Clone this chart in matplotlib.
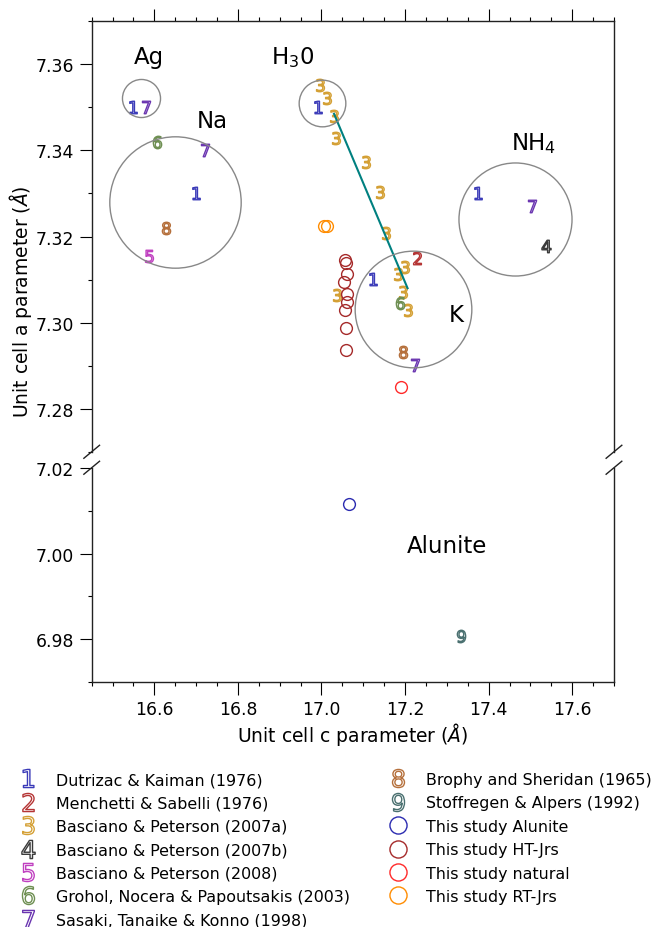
import matplotlib
matplotlib.use("Agg")
import matplotlib.pyplot as plt
from matplotlib.ticker import MultipleLocator, FormatStrFormatter
from matplotlib.lines import Line2D

# ---------------- data (c parameter, a parameter) ----------------
ref_labels = ["Dutrizac & Kaiman (1976)", "Menchetti & Sabelli (1976)",
              "Basciano & Peterson (2007a)", "Basciano & Peterson (2007b)",
              "Basciano & Peterson (2008)", "Grohol, Nocera & Papoutsakis (2003)",
              "Sasaki, Tanaike & Konno (1998)", "Brophy and Sheridan (1965)",
              "Stoffregen & Alpers (1992)"]
ref_colors = ["#3a3ab8", "#b53535", "#d4a035", "#3a3a3a", "#c040c0",
              "#6e8f52", "#6a35b0", "#b5703c", "#4a7070"]

ref1_c = [16.548, 16.700, 16.992, 17.123, 17.374]
ref1_a = [7.3502, 7.3301, 7.3501, 7.3101, 7.3301]
ref2_c = [17.228]
ref2_a = [7.3150]
ref3_c = [16.996, 17.014, 17.030, 17.034, 17.106, 17.139, 17.155, 17.199,
          17.182, 17.195, 17.207, 17.038]
ref3_a = [7.3552, 7.3521, 7.3481, 7.3429, 7.3374, 7.3303, 7.3208, 7.3129,
          7.3113, 7.3072, 7.3030, 7.3063]
ref4_c = [17.538]
ref4_a = [7.3177]
ref5_c = [16.588]
ref5_a = [7.3154]
ref6_c = [16.606, 17.188]
ref6_a = [7.3420, 7.3045]
ref7_c = [16.580, 16.722, 17.223, 17.504]
ref7_a = [7.3502, 7.3401, 7.2902, 7.3270]
ref8_c = [16.628, 17.195]
ref8_a = [7.3219, 7.2931]
ref9_c = [17.334]
ref9_a = [6.9809]

alunite_c = [17.067]
alunite_a = [7.0116]
ht_c = [17.057, 17.059, 17.060, 17.055, 17.062, 17.060, 17.056, 17.059, 17.058]
ht_a = [7.3146, 7.3139, 7.3114, 7.3095, 7.3066, 7.3049, 7.3030, 7.2988, 7.2937]
natural_c = [17.191]
natural_a = [7.2850]
rt_c = [17.005, 17.012]
rt_a = [7.3224, 7.3224]

study_labels = ["This study Alunite", "This study HT-Jrs", "This study natural",
                "This study RT-Jrs"]
study_colors = ["#2b2bb0", "#a52a2a", "#ff2a2a", "#ff8c00"]

# trend line H3O -> K
trend_c = [17.030, 17.206]
trend_a = [7.3485, 7.3080]

# composition groups: centre c, centre a, circle diameter (pt)
group_c = [16.568, 16.650, 17.001, 17.218, 17.463]
group_a = [7.3521, 7.3281, 7.3510, 7.3032, 7.3241]
group_size = [27.4, 94.6, 33.6, 84.0, 81.4]
# group label positions
glabel_txt = ["Ag", "Na", "H$_3$0", "K", "NH$_4$", "Alunite"]
glabel_c = [16.586, 16.738, 16.932, 17.322, 17.508, 17.300]
glabel_a = [7.3619, 7.3469, 7.3619, 7.3020, 7.3419, 7.0018]

# ---------------- figure ----------------
fig = plt.figure(figsize=(6.54, 9.28), dpi=100)
ax1 = fig.add_axes([0.1402, 0.5121, 0.7986, 0.4639])
ax2 = fig.add_axes([0.1402, 0.2637, 0.7986, 0.2312])

refs_c = [ref1_c, ref2_c, ref3_c, ref4_c, ref5_c, ref6_c, ref7_c, ref8_c, ref9_c]
refs_a = [ref1_a, ref2_a, ref3_a, ref4_a, ref5_a, ref6_a, ref7_a, ref8_a, ref9_a]
studies_c = [alunite_c, ht_c, natural_c, rt_c]
studies_a = [alunite_a, ht_a, natural_a, rt_a]

MS = 9.0
for ax in (ax1, ax2):
    for i, (cs, as_) in enumerate(zip(refs_c, refs_a)):
        ax.plot(cs, as_, linestyle="none", marker="$%d$" % (i + 1), ms=MS,
                mfc="none", mec=ref_colors[i], mew=1.0)
    for i, (cs, as_) in enumerate(zip(studies_c, studies_a)):
        ax.plot(cs, as_, linestyle="none", marker="o", ms=8.5,
                mfc="none", mec=study_colors[i], mew=1.0)

handles = []
for i in range(len(ref_labels)):
    handles.append(Line2D([], [], linestyle="none", marker="$%d$" % (i + 1), ms=MS,
                          mfc="none", mec=ref_colors[i], mew=1.0, label=ref_labels[i]))
for i in range(len(study_labels)):
    handles.append(Line2D([], [], linestyle="none", marker="o", ms=8.5,
                          mfc="none", mec=study_colors[i], mew=1.0, label=study_labels[i]))

ax1.plot(trend_c, trend_a, color="#008080", lw=1.5)
for gc, ga, gs in zip(group_c, group_a, group_size):
    ax1.plot([gc], [ga], linestyle="none", marker="o", ms=gs, mfc="none",
             mec="#888888", mew=1.0)

for t, c, a in zip(glabel_txt, glabel_c, glabel_a):
    ax = ax2 if a < 7.1 else ax1
    ax.text(c, a, t, fontsize=16.5, ha="center", va="center")

# limits / ticks
for ax in (ax1, ax2):
    ax.set_xlim(16.45, 17.70)
    ax.xaxis.set_major_locator(MultipleLocator(0.2))
    ax.xaxis.set_minor_locator(MultipleLocator(0.05))
    ax.yaxis.set_major_locator(MultipleLocator(0.02))
    ax.yaxis.set_minor_locator(MultipleLocator(0.01))
    ax.yaxis.set_major_formatter(FormatStrFormatter("%.2f"))
    ax.tick_params(which="major", direction="out", length=9, width=0.8, labelsize=12.4)
    ax.tick_params(which="minor", direction="out", length=3, width=0.8)
    for s in ax.spines.values():
        s.set_linewidth(1.0)
        s.set_color("#222222")

ax1.set_ylim(7.27, 7.37)
ax2.set_ylim(6.97, 7.02)
ax1.spines["bottom"].set_visible(False)
ax2.spines["top"].set_visible(False)
ax1.xaxis.tick_top()
ax1.tick_params(axis="x", which="both", labeltop=False)
ax2.xaxis.tick_bottom()

ax2.set_xlabel(r"Unit cell c parameter ($\AA$)", fontsize=13.5, labelpad=2)
fig.text(0.031, 0.675, r"Unit cell a parameter ($\AA$)", fontsize=13.5,
         rotation=90, ha="center", va="center")

# break marks
d = 0.015
h1 = 6.5 / 430.5
h2 = 6.5 / 214.6
kw = dict(color="#222222", lw=1.0, clip_on=False)
ax1.plot([-d, d], [-h1, h1], transform=ax1.transAxes, **kw)
ax1.plot([1 - d, 1 + d], [-h1, h1], transform=ax1.transAxes, **kw)
ax2.plot([-d, d], [1 - h2, 1 + h2], transform=ax2.transAxes, **kw)
ax2.plot([1 - d, 1 + d], [1 - h2, 1 + h2], transform=ax2.transAxes, **kw)

fig.legend(handles=handles, loc="upper left", bbox_to_anchor=(0.0307, 0.167),
           ncol=2, frameon=False, fontsize=11.4, markerscale=1.45,
           handlelength=1.0, handletextpad=1.27, columnspacing=2.5,
           labelspacing=0.53, borderpad=0, borderaxespad=0)

fig.savefig("out.png", dpi=100)
